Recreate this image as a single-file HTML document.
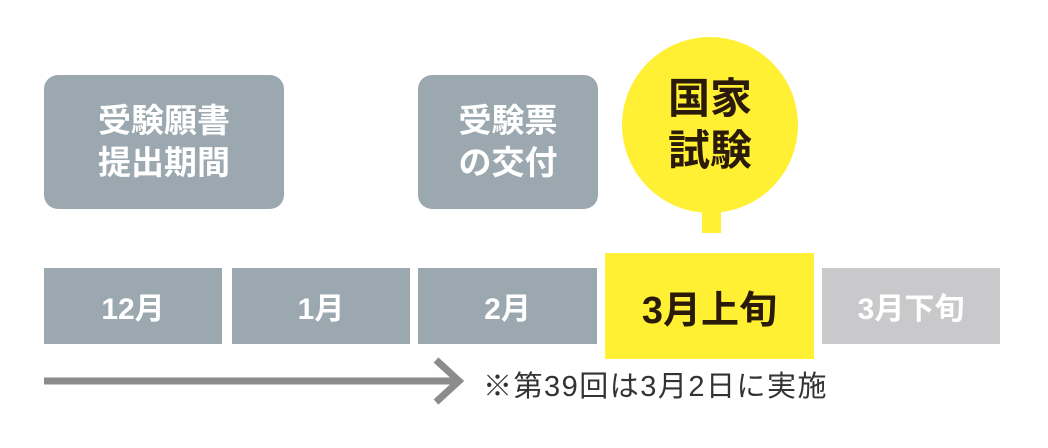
<!DOCTYPE html>
<html><head><meta charset="utf-8"><style>
body{margin:0;width:1048px;height:448px;background:#fff;position:relative;overflow:hidden;font-family:"Liberation Sans","Noto Sans CJK JP",sans-serif;font-weight:bold}
.b{position:absolute;display:flex;align-items:center;justify-content:center;text-align:center;color:#fff}
.g{background:#9ba8af}
</style></head><body>
<div class="b g" style="left:44px;top:75px;width:240px;height:134px;border-radius:14px;font-size:33px;line-height:42px">受験願書<br>提出期間</div>
<div class="b g" style="left:418px;top:75px;width:180px;height:134px;border-radius:14px;font-size:33px;line-height:42px">受験票<br>の交付</div>
<div style="position:absolute;left:702px;top:200px;width:19px;height:33px;background:#fff033"></div>
<div class="b" style="left:622px;top:37px;width:176px;height:176px;border-radius:50%;background:#fff033;color:#2a1a0a;font-size:42px;line-height:52px">国家<br>試験</div>
<div class="b g" style="left:44px;top:268px;width:178px;height:76px;font-size:30px">12月</div>
<div class="b g" style="left:232px;top:268px;width:178px;height:76px;font-size:30px">1月</div>
<div class="b g" style="left:418px;top:268px;width:179px;height:76px;font-size:30px">2月</div>
<div class="b" style="left:605px;top:253px;width:209px;height:106px;background:#fff033;color:#2a1a0a;font-size:38px">3月上旬</div>
<div class="b" style="left:822px;top:268px;width:178px;height:76px;background:#c9c9cb;font-size:30px">3月下旬</div>
<svg style="position:absolute;left:0;top:0" width="1048" height="448">
<line x1="44" y1="381" x2="458" y2="381" stroke="#8c8c8c" stroke-width="7"/>
<polyline points="436,360 459,381 436,402" fill="none" stroke="#8c8c8c" stroke-width="7"/>
</svg>
<div style="position:absolute;left:483px;top:370px;font-size:29px;letter-spacing:1.5px;font-weight:normal;color:#333;line-height:34px;white-space:nowrap">※第39回は3月2日に実施</div>
</body></html>
